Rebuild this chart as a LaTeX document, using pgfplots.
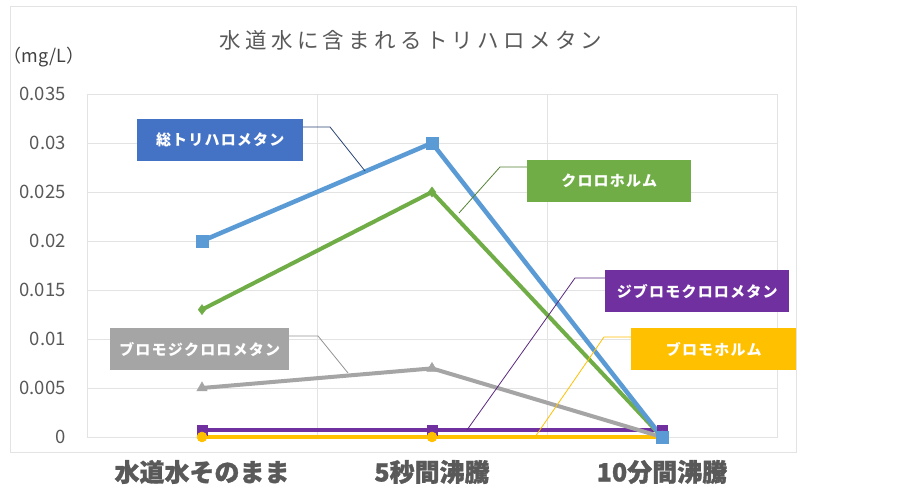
\documentclass[border=0pt]{standalone}
\usepackage{pgfplots}
\pgfplotsset{compat=1.18}
\usepackage{fontspec}
\setmainfont{Noto Sans CJK JP}
\newfontfamily\titlefont[LetterSpace=20]{Noto Sans CJK JP}
\newfontfamily\boxfont[LetterSpace=8]{Noto Sans CJK JP}
\newfontfamily\heavyfont[FakeBold=1.2]{Noto Sans CJK JP}
\definecolor{cblue}{HTML}{5B9BD5}
\definecolor{cbluebox}{HTML}{4472C4}
\definecolor{cgreen}{HTML}{70AD47}
\definecolor{cgray}{HTML}{A5A5A5}
\definecolor{cpurple}{HTML}{7030A0}
\definecolor{cyellow}{HTML}{FFC000}
\definecolor{gridc}{HTML}{E3E3E3}
\definecolor{tc}{HTML}{595959}
\begin{document}
\begin{tikzpicture}[x=1pt,y=1pt]
\path[use as bounding box] (0,0) rectangle (900,500);
\fill[white] (0,0) rectangle (900,500);
\draw[gridc, line width=0.8pt] (10.5,494) rectangle (796,48);
\node[text=tc, font=\titlefont\fontsize{21.5}{21.5}\selectfont] at (411,460) {水道水に含まれるトリハロメタン};
\node[text=black!75, font=\fontsize{18}{18}\selectfont] at (44,443) {（mg/L）};
\begin{axis}[
  at={(87pt,63pt)}, anchor=south west, scale only axis,
  width=690pt, height=343pt,
  xmin=-0.5, xmax=2.5, ymin=0, ymax=0.035,
  clip=false,
  axis line style={draw=gridc, line width=0.8pt},
  ytick={0,0.005,0.01,0.015,0.02,0.025,0.03,0.035},
  ymajorgrids, grid style={draw=gridc, line width=0.8pt},
  major tick length=0pt,
  scaled y ticks=false,
  yticklabel style={/pgf/number format/fixed, /pgf/number format/precision=3,
    /pgf/number format/assume math mode=true,
    font=\fontsize{18.5}{18.5}\selectfont, text=tc, anchor=east, inner sep=0pt, xshift=-21pt},
  xtick={0,1,2},
  xticklabels={水道水そのまま, 5秒間沸騰, 10分間沸騰},
  xticklabel style={font=\heavyfont\fontsize{25}{25}\selectfont\bfseries, text=tc, anchor=center, inner sep=0pt, yshift=-35pt},
  extra x ticks={0.5,1.5},
  extra x tick labels={},
  extra x tick style={xmajorgrids, grid style={draw=gridc, line width=0.8pt}},
]
\addplot[cpurple, line width=4pt, mark=square*, mark size=5pt, mark options={line width=0.5pt}] coordinates {(0,0.0007) (1,0.0007) (2,0.0007)};
\addplot[cyellow, line width=4pt, mark=*, mark size=5pt, mark options={line width=0.5pt}] coordinates {(0,0) (1,0) (2,0)};
\addplot[cgray, line width=4pt, mark=triangle*, mark size=6pt, mark options={line width=0.5pt}] coordinates {(0,0.005) (1,0.007) (2,0)};
\addplot[cgreen, line width=4pt, mark=diamond*, mark size=5pt, mark options={line width=0.5pt}] coordinates {(0,0.013) (1,0.025) (2,0)};
\addplot[cblue, line width=4.5pt, mark=square*, mark size=6pt, mark options={line width=0.5pt}] coordinates {(0,0.02) (1,0.03) (2,0)};
\end{axis}
% callouts (y = 500 - image y)
\tikzset{cbox/.style={minimum width=#1, minimum height=42pt, inner sep=0pt, anchor=north west, text=white, font=\boxfont\fontsize{15}{15}\selectfont\bfseries}}
\draw[cbluebox!60!black, line width=0.8pt] (303,373) -- (330,373) -- (365,329);
\node[cbox=166pt, fill=cbluebox] at (137,381) {総トリハロメタン};
\draw[cgreen!75!black, line width=0.8pt] (527,333) -- (500,333) -- (459,287);
\node[cbox=164pt, fill=cgreen] at (527,340) {クロロホルム};
\draw[cpurple!80!black, line width=0.8pt] (605,222) -- (575,222) -- (467,70);
\node[cbox=184pt, fill=cpurple] at (605,230) {ジブロモクロロメタン};
\draw[cyellow, line width=0.8pt] (631,163) -- (604,163) -- (535,63);
\node[cbox=165pt, fill=cyellow] at (631,172) {ブロモホルム};
\draw[cgray!90!black, line width=0.8pt] (289,164) -- (318,164) -- (348,127);
\node[cbox=179pt, fill=cgray] at (110,172) {ブロモジクロロメタン};
\end{tikzpicture}
\end{document}
